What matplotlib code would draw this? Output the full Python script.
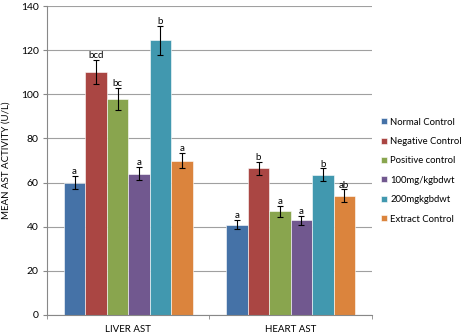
import matplotlib.pyplot as plt
import numpy as np

plt.rcParams['font.family'] = ['Lato', 'DejaVu Sans']

categories = ["LIVER AST", "HEART AST"]
groups = ["Normal Control", "Negative Control", "Positive control",
          "100mg/kgbdwt", "200mgkgbdwt", "Extract Control"]
means = [
    [60, 41],
    [110, 66.5],
    [98, 47],
    [64, 43],
    [124.5, 63.5],
    [70, 54],
]
errors = [
    [3, 2],
    [5.5, 3],
    [5, 2.5],
    [3, 2],
    [6.5, 3],
    [3.5, 3],
]
letters = [
    ["a", "a"],
    ["bcd", "b"],
    ["bc", "a"],
    ["a", "a"],
    ["b", "b"],
    ["a", "ab"],
]
colors = ["#4572A7", "#AA4643", "#89A54E", "#71588F", "#4198AF", "#DB843D"]

fig = plt.figure(figsize=(4.69, 3.34), dpi=100)
ax = fig.add_axes([0.1002, 0.0569, 0.6928, 0.9251])

x = np.arange(len(categories))
width = 0.132
n = len(groups)
for i, name in enumerate(groups):
    pos = x + (i - (n - 1) / 2) * width
    ax.bar(pos, means[i], width, color=colors[i], label=name,
           edgecolor="white", linewidth=0.4, zorder=2)
    ax.errorbar(pos, means[i], yerr=errors[i], fmt="none", ecolor="black",
                elinewidth=0.8, capsize=2.5, capthick=0.8, zorder=3)
    for xp, v, e, lab in zip(pos, means[i], errors[i], letters[i]):
        ax.annotate(lab, (xp, v + e), xytext=(0, 3), textcoords="offset points",
                    ha="center", va="center", fontsize=7, zorder=4)

ax.set_xlim(-0.5, 1.5)
ax.set_ylim(0, 140)
ax.set_yticks(range(0, 141, 20))
ax.tick_params(axis="y", labelsize=7.5, length=3, color="#888888", pad=3)
ax.set_xticks(x)
ax.set_xticklabels(categories, fontsize=7)
ax.tick_params(axis="x", length=0, pad=7)
ax.set_xticks([-0.5, 0.5, 1.5], minor=True)
ax.tick_params(axis="x", which="minor", length=3, color="#888888")
ax.yaxis.grid(True, color="#a0a0a0", linewidth=0.8, zorder=0)
ax.set_axisbelow(True)
for side in ["top", "right"]:
    ax.spines[side].set_visible(False)
for side in ["left", "bottom"]:
    ax.spines[side].set_color("#888888")
ax.set_ylabel("MEAN AST ACTIVITY (U/L)", fontsize=7, labelpad=7)

fig.legend(loc="upper left", bbox_to_anchor=(0.8, 0.665), frameon=False,
           fontsize=6.8, handlelength=0.6, handleheight=0.6,
           handletextpad=0.4, labelspacing=1.1, borderaxespad=0.2)

fig.savefig("out.png", dpi=100, facecolor="white")
